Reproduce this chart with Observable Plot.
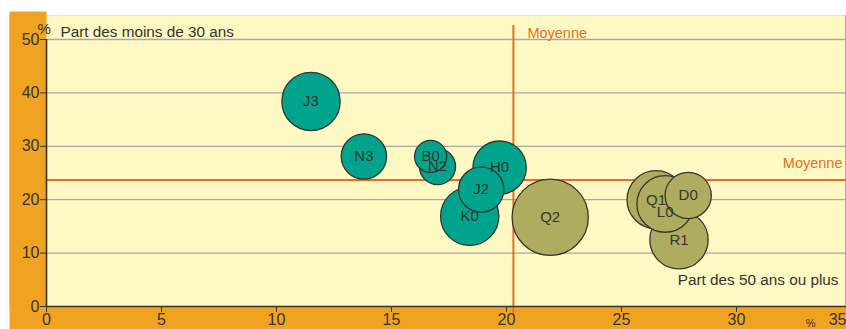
<!DOCTYPE html>
<html><head><meta charset="utf-8">
<script src="https://cdn.jsdelivr.net/npm/d3@7"></script>
<script src="https://cdn.jsdelivr.net/npm/@observablehq/plot@0.6"></script>
<style>
html,body{margin:0;padding:0;background:#fff;overflow:hidden;}
</style></head><body><div id="chart"></div>
<script>
// Data
const codes       = ["Q2","R1","Q1","L0","D0","K0","H0","J2","N2","B0","N3","J3"];
const part50Plus  = [21.9, 27.5, 26.5, 26.9, 27.9, 18.4, 19.7, 18.9, 17.0, 16.7, 13.8, 11.5];
const partMoins30 = [16.7, 12.5, 20.0, 19.2, 20.8, 16.9, 26.0, 21.9, 26.2, 28.1, 28.1, 38.4];
const effectif    = [147, 86, 85, 81, 54, 86, 72, 52, 33, 26, 52, 86];
const groupe      = ["b","b","b","b","b","a","a","a","a","a","a","a"];
const moyenneX = 20.3;
const moyenneY = 23.7;
const xTicks = [0, 5, 10, 15, 20, 25, 30];
const xLastTick = [35];
const yTicks = [0, 10, 20, 30, 40, 50];

const data = codes.map((c, i) => ({code: c, x: part50Plus[i], y: partMoins30[i], n: effectif[i], g: groupe[i]}));

const orange = "#f0a321", cream = "#fef8c2", teal = "#00a38c", olive = "#aeac5f";
const meanColor = "#e2702a", ink = "#353530", grid = "#a8a8a8";
const font = "'Liberation Sans', Arial, sans-serif";

const plot = Plot.plot({
  width: 846, height: 329,
  marginLeft: 46, marginRight: 0, marginTop: 39, marginBottom: 23,
  style: {fontFamily: font, fontSize: "16px", color: ink, background: "transparent", overflow: "visible"},
  x: {domain: [0, 35], range: [46, 851], axis: null},
  y: {domain: [0, 50], axis: null},
  r: {type: "sqrt", domain: [0, 150], range: [0, 38.5]},
  color: {domain: ["a", "b"], range: [teal, olive]},
  marks: [
    Plot.frame({fill: orange, stroke: null, insetLeft: -37, insetTop: -24, insetBottom: -23}),
    Plot.frame({fill: orange, stroke: null, insetLeft: -37, insetTop: -28, insetRight: 800}),
    Plot.frame({fill: cream, stroke: null, insetTop: -24}),
    Plot.frame({anchor: "right", stroke: grid, insetTop: -24, insetRight: 1}),
    Plot.gridY(yTicks.filter(d => d > 0), {stroke: grid, strokeOpacity: 1, strokeWidth: 1.3}),
    Plot.ruleY([moyenneY], {stroke: meanColor, strokeWidth: 2}),
    Plot.ruleX([moyenneX], {stroke: meanColor, strokeWidth: 2, insetTop: -14, insetBottom: -9}),
    Plot.ruleY([0], {stroke: ink, strokeWidth: 1.6}),
    Plot.ruleX([0], {stroke: ink, strokeWidth: 1.6}),
    Plot.axisY({ticks: yTicks, tickSize: 6, tickPadding: 1, tickFormat: d => String(d), label: null, stroke: ink, fill: ink, fontSize: 16}),
    Plot.axisX({ticks: xTicks, tickSize: 6, tickPadding: 1, tickFormat: d => String(d), label: null, stroke: ink, fill: ink, fontSize: 16}),
    Plot.axisX({ticks: xLastTick, tickSize: 0, tickPadding: 7, textAnchor: "end", dx: -5, tickFormat: d => String(d), label: null, fill: ink, fontSize: 16}),
    Plot.dot(data, {x: "x", y: "y", r: "n", fill: "g", stroke: ink, strokeWidth: 1.3, sort: null}),
    Plot.text(data.filter(d => d.code !== "L0"), {x: "x", y: "y", text: "code", fill: ink, fontSize: 15}),
    Plot.text(data.filter(d => d.code === "L0"), {x: "x", y: "y", text: "code", fill: ink, fontSize: 15, dy: 8}),
    Plot.text(["%"], {frameAnchor: "top-left", text: d => d, dx: -9, dy: -16, fill: ink, fontSize: 15}),
    Plot.text(["Part des moins de 30 ans"], {frameAnchor: "top-left", text: d => d, dx: 14, dy: -13, textAnchor: "start", fill: ink, fontSize: 15.3}),
    Plot.text(["Part des 50 ans ou plus"], {frameAnchor: "bottom-right", text: d => d, dx: -8, dy: -22, textAnchor: "end", fill: ink, fontSize: 15.3}),
    Plot.text(["%"], {frameAnchor: "bottom-right", text: d => d, dx: -31, dy: 20, fill: ink, fontSize: 11}),
    Plot.text([moyenneX], {x: d => d, frameAnchor: "top", text: () => "Moyenne", dx: 14, dy: -12, textAnchor: "start", fill: meanColor, fontSize: 14.5}),
    Plot.text([moyenneY], {y: d => d, frameAnchor: "right", text: () => "Moyenne", dx: -4, dy: -17, textAnchor: "end", fill: meanColor, fontSize: 14.5})
  ]
});
document.getElementById("chart").appendChild(plot);
</script></body></html>
